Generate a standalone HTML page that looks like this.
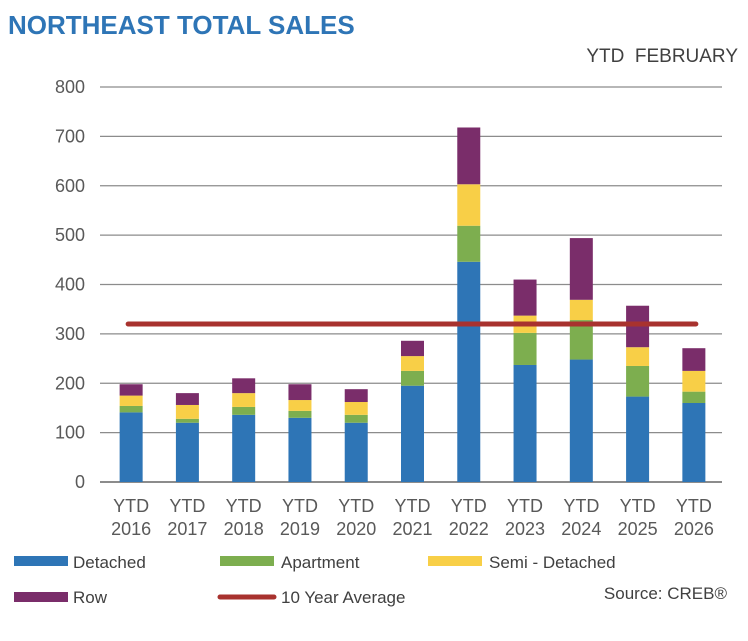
<!DOCTYPE html>
<html><head><meta charset="utf-8"><style>
body{margin:0;background:#fff;font-family:"Liberation Sans",Arial,sans-serif;}
svg text{font-family:"Liberation Sans",Arial,sans-serif;}
</style></head><body>
<svg id="chart" width="748" height="636">
<text x="8" y="34" font-size="26" font-weight="bold" fill="#2e75b6">NORTHEAST TOTAL SALES</text>
<text x="738" y="62" font-size="19" fill="#404040" text-anchor="end">YTD&#160;&#160;FEBRUARY</text>
<g id="grid"></g><g id="bars"></g><g id="avg"></g><g id="xlabels"></g>
<g>
<rect x="14" y="556" width="54" height="10" fill="#2e75b6"/>
<text x="73" y="568" font-size="17" fill="#404040">Detached</text>
<rect x="220" y="556" width="54" height="10" fill="#7dae4f"/>
<text x="281" y="568" font-size="17" fill="#404040">Apartment</text>
<rect x="428" y="556" width="54" height="10" fill="#f8cf47"/>
<text x="489" y="568" font-size="17" fill="#404040">Semi - Detached</text>
<rect x="14" y="592" width="54" height="10" fill="#7a2d6a"/>
<text x="73" y="603" font-size="17" fill="#404040">Row</text>
<line x1="220" y1="597" x2="274" y2="597" stroke="#a8322e" stroke-width="5" stroke-linecap="round"/>
<text x="281" y="603" font-size="17" fill="#404040">10 Year Average</text>
</g>
<text x="727" y="599" font-size="17" fill="#404040" text-anchor="end">Source: CREB®</text>
</svg>
<script>
const categories=["2016","2017","2018","2019","2020","2021","2022","2023","2024","2025","2026"];
const detached=[141,120,136,130,120,195,446,237,248,173,160];
const apartment=[13,8,16,14,16,30,73,65,80,62,23];
const semiDetached=[21,28,28,22,26,30,84,35,41,38,42];
const row=[23,24,30,32,26,31,115,73,125,84,46];
const tenYearAverage=320;
const yTicks=[0,100,200,300,400,500,600,700,800];
const NS="http://www.w3.org/2000/svg";
const x0=103,x1=722,yBase=482,yTop=87,yMax=800;
const y=v=>yBase-(v/yMax)*(yBase-yTop);
const step=(x1-x0)/categories.length;
const xc=i=>x0+step*(i+0.5);
function mk(tag,attrs,parent){const e=document.createElementNS(NS,tag);for(const k in attrs)e.setAttribute(k,attrs[k]);parent.appendChild(e);return e;}
const grid=document.getElementById('grid');
yTicks.forEach(t=>{
 const l=mk('line',{x1:x0-3,x2:x1,y1:y(t),y2:y(t),stroke:'#8c8c8c','stroke-width':t===0?2:1.3},grid);
 
 
 const tx=mk('text',{x:85,y:y(t)+6,'font-size':18,fill:'#595959','text-anchor':'end'},grid);
 tx.textContent=t;
 
 
});
const bars=document.getElementById('bars');
const series=[[detached,'#2e75b6','detached'],[apartment,'#7dae4f','apartment'],[semiDetached,'#f8cf47','semi-detached'],[row,'#7a2d6a','row']];
const bw=23;
categories.forEach((c,i)=>{
 let cum=0;
 series.forEach(([arr,col,nm])=>{
  const v=arr[i];
  const r=mk('rect',{x:xc(i)-bw/2,y:y(cum+v),width:bw,height:y(cum)-y(cum+v),fill:col},bars);
  
  
  cum+=v;
 });
 const xl=document.getElementById('xlabels');
 const t1=mk('text',{x:xc(i),y:512,'font-size':18,fill:'#595959','text-anchor':'middle'},xl);
 t1.textContent='YTD';
 
 
 const t2=mk('text',{x:xc(i),y:535,'font-size':18,fill:'#595959','text-anchor':'middle'},xl);
 t2.textContent=c;
 
 
});
const al=mk('line',{x1:xc(0)-3,x2:xc(categories.length-1)+2,y1:y(tenYearAverage),y2:y(tenYearAverage),stroke:'#a8322e','stroke-width':5,'stroke-linecap':'round'},document.getElementById('avg'));


</script>
</body></html>
